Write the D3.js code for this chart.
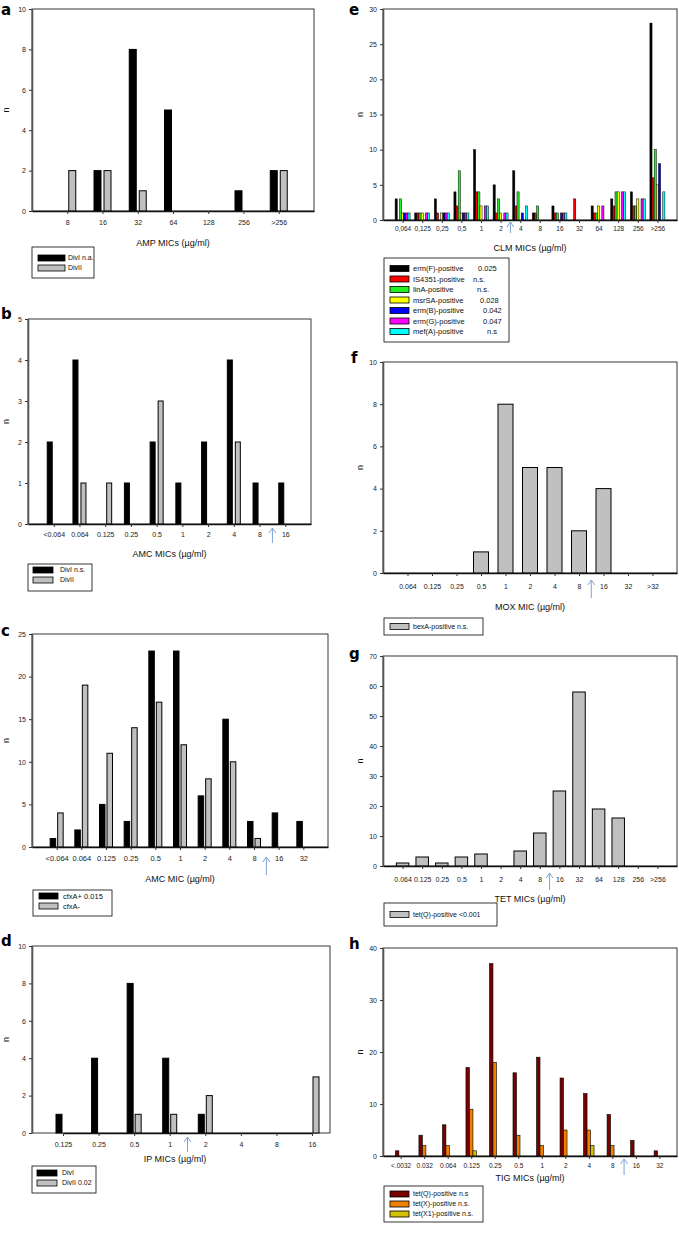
<!DOCTYPE html>
<html><head><meta charset="utf-8">
<script src="https://cdn.jsdelivr.net/npm/d3@7"></script>
<style>
body{margin:0;background:#fff;}
svg{display:block;font-family:"Liberation Sans",Arial,sans-serif;}
</style></head><body>
<svg id="chart" width="679" height="1239"></svg>
<script>
// ---------- DATA ----------
const catsA = ["8","16","32","64","128","256",">256"];
const aDivI = [0,2,8,5,0,1,2];
const aDivII = [2,2,1,0,0,0,2];
const legA = ["DivI n.a.","DivII"];

const catsB = ["<0.064","0.064","0.125","0.25","0.5","1","2","4","8","16"];
const bDivI = [2,4,0,1,2,1,2,4,1,1];
const bDivII = [0,1,1,0,3,0,0,2,0,0];
const legB = ["DivI  n.s.","DivII"];

const catsC = ["<0.064","0.064","0.125","0.25","0.5","1","2","4","8","16","32"];
const cCfxAPos = [1,2,5,3,23,23,6,15,3,4,3];
const cCfxANeg = [4,19,11,14,17,12,8,10,1,0,0];
const legC = ["cfxA+ 0.015","cfxA-"];

const catsD = ["0.125","0.25","0.5","1","2","4","8","16"];
const dDivI = [1,4,8,4,1,0,0,0];
const dDivII = [0,0,1,1,2,0,0,3];
const legD = ["DivI","DivII 0.02"];

const catsE = ["0,064","0,125","0,25","0,5","1","2","4","8","16","32","64","128","256",">256"];
const eErmF   = [3,1,3,4,10,5,7,1,2,0,2,3,4,28];
const eIS4351 = [0,1,1,2,4,1,2,1,1,3,1,2,2,6];
const eLinA   = [3,1,0,7,4,3,4,2,1,0,1,4,2,10];
const eMsrSA  = [1,1,1,1,2,1,0,0,0,0,2,4,3,5];
const eErmB   = [1,0,1,1,0,0,1,0,1,0,0,0,0,8];
const eErmG   = [1,1,1,1,2,1,0,0,1,0,2,4,3,0];
const eMefA   = [1,1,1,1,2,1,2,0,1,0,0,4,3,4];
const legE = ["erm(F)-positive","IS4351-positive","linA-positive","msrSA-positive","erm(B)-positive","erm(G)-positive","mef(A)-positive"];
const legEp = ["0.025","n.s.","n.s.","0.028","0.042","0.047","n.s"];

const catsF = ["0.064","0.125","0.25","0.5","1","2","4","8","16","32",">32"];
const fBexA = [0,0,0,1,8,5,5,2,4,0,0];
const legF = ["bexA-positive n.s."];

const catsG = ["0.064","0.125","0.25","0.5","1","2","4","8","16","32","64","128","256",">256"];
const gTetQ = [1,3,1,3,4,0,5,11,25,58,19,16,0,0];
const legG = ["tet(Q)-positive <0.001"];

const catsH = ["<.0032","0.032","0.064","0.125","0.25","0.5","1","2","4","8","16","32"];
const hTetQ  = [1,4,6,17,37,16,19,15,12,8,3,1];
const hTetX  = [0,2,2,9,18,4,2,5,5,2,0,0];
const hTetX1 = [0,0,0,1,0,0,0,0,2,0,0,0];
const legH = ["tet(Q)-positive n.s","tet(X)-positive  n.s.","tet(X1)-positive n.s."];

const titles = ["AMP MICs (\u00b5g/ml)","AMC MICs (\u00b5g/ml)","AMC MIC (\u00b5g/ml)","IP MICs (\u00b5g/ml)",
  "CLM MICs (\u00b5g/ml)","MOX MIC (\u00b5g/ml)","TET MICs (\u00b5g/ml)","TIG MICs (\u00b5g/ml)"];

// ---------- DRAW ----------
const svg = d3.select("#chart");
const GRAY = "#c0c0c0";
const ARROW = "#7fa2d6";

function panel(cfg){
  const g = svg.append("g");
  const f = cfg.frame;
  const x = d3.scalePoint().domain(cfg.cats);
  if (cfg.xr) x.range(cfg.xr).padding(0); else x.range([f.x0,f.x1]).padding(cfg.pad);
  const y = d3.scaleLinear().domain([0,cfg.ymax]).range([f.y1,f.y0]);

  g.append("rect").attr("x",f.x0).attr("y",f.y0).attr("width",f.x1-f.x0).attr("height",f.y1-f.y0)
    .attr("fill","none").attr("stroke","#222").attr("stroke-width",0.9);

  const inner = d3.scaleBand().domain(d3.range(cfg.series.length))
    .range([-cfg.gw/2,cfg.gw/2]).paddingInner(cfg.pi||0);
  cfg.series.forEach((s,si)=>{
    g.append("g").selectAll("rect")
      .data(s.values.map((v,i)=>({v,c:cfg.cats[i]})).filter(d=>d.v>0))
      .join("rect")
      .attr("x",d=>x(d.c)+inner(si))
      .attr("width",inner.bandwidth())
      .attr("y",d=>y(d.v))
      .attr("height",d=>y(0)-y(d.v))
      .attr("fill",s.bar||s.color)
      .attr("stroke","#000").attr("stroke-width",cfg.sw||1);
  });

  const ya = g.append("g").attr("transform",`translate(${f.x0},0)`)
    .call(d3.axisLeft(y).tickValues(d3.range(0,cfg.ymax+cfg.ystep/2,cfg.ystep))
      .tickFormat(d3.format("d")).tickSize(3).tickSizeOuter(0).tickPadding(3));
  ya.select(".domain").attr("stroke","#555").attr("stroke-width",1.6);
  ya.selectAll(".tick line").attr("stroke","#333");
  ya.selectAll("text").attr("font-size",7).attr("fill","#222").attr("font-family","Liberation Sans, Arial, sans-serif");

  const xa = g.append("g").attr("transform",`translate(0,${f.y1})`)
    .call(d3.axisBottom(x).tickSize(3).tickSizeOuter(0).tickPadding(cfg.lpad));
  xa.select(".domain").attr("stroke","#111").attr("stroke-width",1.6);
  xa.selectAll(".tick line").attr("stroke","#333");
  xa.selectAll("text").attr("font-size",cfg.xfs||7).attr("fill","#222").attr("font-family","Liberation Sans, Arial, sans-serif");

  // axis titles
  g.append("text").attr("x",(f.x0+f.x1)/2 + (cfg.tdx||0)).attr("y",cfg.ty).attr("text-anchor","middle")
    .attr("font-size",9).attr("fill","#111").text(cfg.title);
  g.append("text").attr("transform",`translate(${cfg.nx},${(f.y0+f.y1)/2}) rotate(-90)`)
    .attr("text-anchor","middle").attr("font-size",9).attr("fill","#111").text("n");

  // panel letter
  g.append("text").attr("x",cfg.lx).attr("y",cfg.ly).attr("font-family","DejaVu Sans, sans-serif")
    .attr("font-weight",700).attr("font-size",15).attr("fill","#000").text(cfg.letter);

  // arrow between two categories
  if (cfg.arrow){
    const ax = (x(cfg.cats[cfg.arrow[0]]) + x(cfg.cats[cfg.arrow[1]]))/2;
    const t = cfg.arrow[2], b = cfg.arrow[3];
    g.append("line").attr("x1",ax).attr("x2",ax).attr("y1",t).attr("y2",b).attr("stroke",ARROW).attr("stroke-width",1);
    g.append("path").attr("d",`M${ax-3.5},${t+5}L${ax},${t}L${ax+3.5},${t+5}`).attr("fill","none")
      .attr("stroke",ARROW).attr("stroke-width",1);
  }

  // legend
  const L = cfg.legend;
  g.append("rect").attr("x",L.x).attr("y",L.y).attr("width",L.w).attr("height",L.h)
    .attr("fill","#fff").attr("stroke","#222").attr("stroke-width",0.9);
  cfg.series.forEach((s,i)=>{
    const cy = L.r0 + i*L.dy;
    g.append("rect").attr("x",L.sx).attr("y",cy-L.sh/2).attr("width",L.sw).attr("height",L.sh)
      .attr("fill",s.color).attr("stroke","#000").attr("stroke-width",0.8);
    g.append("text").attr("x",L.tx).attr("y",cy).attr("dy","0.35em").attr("font-size",L.fs||7)
      .attr("fill","#111").text(s.name);
    if (s.p) g.append("text").attr("x",s.px).attr("y",cy).attr("dy","0.35em").attr("font-size",L.fs||7)
      .attr("fill","#111").text(s.p);
  });
}

// a
panel({letter:"a",lx:1,ly:15,cats:catsA,frame:{x0:32,x1:314,y0:9,y1:211},pad:1,ymax:10,ystep:2,
  gw:17,pi:0.3,lpad:6,title:titles[0],ty:246,nx:9,
  series:[{name:legA[0],color:"#000",values:aDivI},{name:legA[1],color:GRAY,values:aDivII}],
  legend:{x:32,y:247,w:62,h:31,sx:38,sw:27,sh:6,tx:68,r0:258,dy:10}});
// b
panel({letter:"b",lx:1,ly:319,cats:catsB,frame:{x0:28,x1:311,y0:319,y1:524},pad:1,ymax:5,ystep:1,
  gw:13,pi:0.375,lpad:5,title:titles[1],ty:557,nx:9,arrow:[8,9,528,543],
  series:[{name:legB[0],color:"#000",values:bDivI},{name:legB[1],color:GRAY,values:bDivII}],
  legend:{x:28,y:564,w:64,h:27,sx:33,sw:20,sh:6,tx:60,r0:570,dy:10}});
// c
panel({letter:"c",lx:1,ly:636,cats:catsC,frame:{x0:32,x1:328,y0:634,y1:847},pad:1,ymax:25,ystep:5,
  gw:13,pi:0.267,lpad:6,title:titles[2],ty:882,nx:9,xfs:7.5,arrow:[8,9,857,875],
  series:[{name:legC[0],color:"#000",values:cCfxAPos},{name:legC[1],color:GRAY,values:cCfxANeg}],
  legend:{x:33,y:890,w:79,h:26,sx:39,sw:19,sh:6,tx:63,r0:896,dy:10,fs:7.5}});
// d
panel({letter:"d",lx:1,ly:946,cats:catsD,frame:{x0:32,x1:330,y0:946,y1:1133},xr:[63,312],ymax:10,ystep:2,
  gw:14,pi:0.25,lpad:6,title:titles[3],ty:1162,nx:9,tdx:-6,arrow:[3,4,1137,1152],
  series:[{name:legD[0],color:"#000",values:dDivI},{name:legD[1],color:GRAY,values:dDivII}],
  legend:{x:32,y:1166,w:64,h:27,sx:37,sw:20,sh:6,tx:62,r0:1173,dy:10}});
// e
panel({letter:"e",lx:349,ly:15,cats:catsE,frame:{x0:383,x1:677,y0:9,y1:220},pad:1,ymax:30,ystep:5,
  gw:15,pi:0,sw:0.5,lpad:3,title:titles[4],ty:251,nx:363,xfs:6.5,arrow:[5,6,222,233],
  series:[
    {name:legE[0],color:"#000000",values:eErmF,p:legEp[0],px:478},
    {name:legE[1],color:"#ff0000",values:eIS4351,p:legEp[1],px:473},
    {name:legE[2],color:"#22ee22",values:eLinA,p:legEp[2],px:477},
    {name:legE[3],color:"#ffff00",values:eMsrSA,p:legEp[3],px:480},
    {name:legE[4],color:"#0000ff",values:eErmB,p:legEp[4],px:483},
    {name:legE[5],color:"#ff00ff",values:eErmG,p:legEp[5],px:483},
    {name:legE[6],color:"#00ffff",values:eMefA,p:legEp[6],px:487}],
  legend:{x:384,y:258,w:125,h:84,sx:390,sw:19,sh:6,tx:413,r0:268.5,dy:10.5,fs:7.5}});
// f
panel({letter:"f",lx:351,ly:363,cats:catsF,frame:{x0:383,x1:677,y0:362,y1:573},pad:1,ymax:10,ystep:2,
  gw:15,pi:0,lpad:8,title:titles[5],ty:610,nx:363,arrow:[7,8,580,598],
  series:[{name:legF[0],color:GRAY,values:fBexA}],
  legend:{x:384,y:618,w:99,h:17,sx:390,sw:19,sh:6,tx:413,r0:626.5,dy:10}});
// g
panel({letter:"g",lx:349,ly:659,cats:catsG,frame:{x0:383,x1:677,y0:656,y1:866},pad:1,ymax:70,ystep:10,
  gw:12.5,pi:0,lpad:8,title:titles[6],ty:902,nx:363,xfs:7,arrow:[7,8,873,890],
  series:[{name:legG[0],color:GRAY,values:gTetQ}],
  legend:{x:384,y:903,w:113,h:23,sx:390,sw:19,sh:6,tx:413,r0:914.5,dy:10}});
// h
panel({letter:"h",lx:349,ly:949,cats:catsH,frame:{x0:383,x1:677,y0:948,y1:1156},pad:0.75,ymax:40,ystep:10,
  gw:10.5,pi:0,sw:0.6,lpad:4,title:titles[7],ty:1181,nx:363,xfs:6.5,arrow:[9,10,1159,1175],
  series:[
    {name:legH[0],color:"#7a0000",values:hTetQ},
    {name:legH[1],color:"#f08000",values:hTetX},
    {name:legH[2],color:"#d4c000",values:hTetX1}],
  legend:{x:384,y:1186,w:99,h:36,sx:390,sw:19,sh:6,tx:413,r0:1194,dy:10}});
</script>
</body></html>
